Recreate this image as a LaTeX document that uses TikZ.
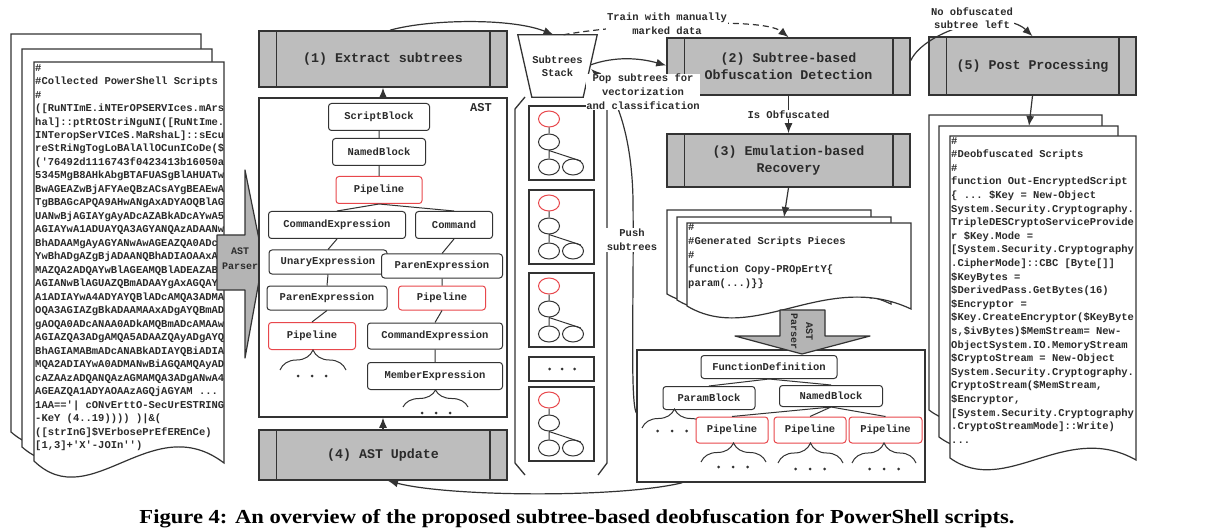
\documentclass[tikz,border=0pt]{standalone}
\usepackage{fontspec}
\usepackage{graphicx}
\setmonofont{Liberation Mono}
\newfontfamily\capfont{Liberation Serif}
\usetikzlibrary{arrows.meta,calc,decorations.pathreplacing,shapes.geometric}

\definecolor{ln}{HTML}{333333}
\definecolor{txt}{HTML}{2B2B2B}
\definecolor{procfill}{HTML}{BDBDBD}
\definecolor{arrfill}{HTML}{B4B4B4}
\definecolor{pred}{HTML}{E8474C}

\newcommand{\docpage}[6]{\path[pagestyle] (#1,#2) -- (#3,#2) -- (#3,#5) .. controls ({#1+0.62*(#3-#1)},{#5-#6}) and ({#1+0.3*(#3-#1)},{#4+#6}) .. (#1,#4) -- cycle;}
\newcommand{\tdots}[3]{\fill[ln] ({#1-#3},#2) circle (1.5) (#1,#2) circle (1.5) ({#1+#3},#2) circle (1.5);}

\tikzset{
 pagestyle/.style={fill=white, draw=ln, line width=1.2pt},
 proc/.style={draw=ln, line width=1.6pt, fill=procfill, font=\ttfamily\bfseries\fontsize{13.3}{17}\selectfont, text=txt, align=center, inner sep=0pt},
 tn/.style={draw=ln, line width=1pt, rounded corners=3pt, fill=white, inner sep=0pt, font=\ttfamily\bfseries\fontsize{10.5}{13}\selectfont, text=txt},
 tnr/.style={tn, draw=pred},
 treeln/.style={draw=ln, line width=1pt},
 conn/.style={draw=ln, line width=1.2pt, -{Latex[length=10pt,width=8pt]}},
 lbl/.style={font=\ttfamily\bfseries\fontsize{10.5}{14}\selectfont, text=txt, align=center, inner sep=1pt},
 doctext/.style={font=\ttfamily\bfseries\fontsize{10.5}{#1}\selectfont, align=left, inner sep=0pt, text=txt, anchor=north west},
 brc/.style={decorate, decoration={brace, amplitude=#1}, draw=ln, line width=1pt},
 cir/.style={ellipse, draw=ln, line width=1pt, minimum width=21, minimum height=16, inner sep=0pt, fill=white},
 card/.style={draw=ln, line width=1.3pt, minimum width=65, minimum height=74, inner sep=0pt, fill=white},
 sidebar/.style={draw=ln, line width=1.4pt}
}

\begin{document}
\begin{tikzpicture}[x=1pt,y=-1pt]
\useasboundingbox (0,0) rectangle (1209,529);
\fill[white] (0,0) rectangle (1209,529);

% ---------- left documents ----------
\docpage{11}{34}{201}{432}{436}{50}
\docpage{22}{49}{212}{447}{450}{50}
\docpage{34}{62}{224}{461}{463}{55}
\begin{scope}
\clip (34,62) rectangle (224,470);
\node[doctext=13.48] (ldoc) at (35,64) {\#\\
\#Collected PowerShell Scripts\\
\#\\
([RuNTImE.iNTErOPSERVIces.mArs\\
hal]::ptRtOStriNguNI([RuNtIme.\\
INTeropSerVICeS.MaRshaL]::sEcu\\
reStRiNgTogLoBAlAllOCunICoDe(\$\\
('76492d1116743f0423413b16050a\\
5345MgB8AHkAbgBTAFUASgBlAHUATw\\
BwAGEAZwBjAFYAeQBzACsAYgBEAEwA\\
TgBBAGcAPQA9AHwANgAxADYAOQBlAG\\
UANwBjAGIAYgAyADcAZABkADcAYwA5\\
AGIAYwA1ADUAYQA3AGYANQAzADAANw\\
BhADAAMgAyAGYANwAwAGEAZQA0ADcA\\
YwBhADgAZgBjADAANQBhADIAOAAxAD\\
MAZQA2ADQAYwBlAGEAMQBlADEAZABk\\
AGIANwBlAGUAZQBmADAAYgAxAGQAYQ\\
A1ADIAYwA4ADYAYQBlADcAMQA3ADMA\\
OQA3AGIAZgBkADAAMAAxADgAYQBmAD\\
gAOQA0ADcANAA0ADkAMQBmADcAMAAw\\
AGIAZQA3ADgAMQA5ADAAZQAyADgAYQ\\
BhAGIAMABmADcANABkADIAYQBiADIA\\
MQA2ADIAYwA0ADMANwBiAGQAMQAyAD\\
cAZAAzADQANQAzAGMAMQA3ADgANwA4\\
AGEAZQA1ADYAOAAzAGQjAGYAM ...\\
1AA=='| cONvErttO-SecUrESTRING\\
-KeY (4..19)))) )|\&(\\
([strInG]\$VErbosePrEfEREnCe)\\
{}[1,3]+'X'-JOIn'')};
\end{scope}

% left AST parser arrow
\path[draw=ln, line width=1.2pt, fill=arrfill, line join=round] (217,235) -- (245,235) -- (245,170) -- (263,259) -- (245,358) -- (245,290) -- (217,290) -- cycle;
\node[lbl, font=\ttfamily\bfseries\fontsize{10}{15}\selectfont] (apl) at (240,259) {AST\\Parser};

% ---------- AST box ----------
\node[draw=ln, line width=1.5pt, fill=white, minimum width=248, minimum height=319, inner sep=0pt] (ast) at (383,257.5) {};
\node[lbl, font=\ttfamily\bfseries\fontsize{12}{14}\selectfont] (astl) at (481,108) {AST};
\node[proc, minimum width=248, minimum height=56] (p1) at (383,59) {(1) Extract subtrees};
\node[proc, minimum width=248, minimum height=50] (p4) at (383,455) {(4) AST Update};

\node[tn, minimum width=101, minimum height=27] (sb) at (379,117) {ScriptBlock};
\node[tn, minimum width=93, minimum height=27] (nb) at (379,152) {NamedBlock};
\node[tnr, minimum width=86, minimum height=27] (pla) at (379,190) {Pipeline};
\node[tn, minimum width=137, minimum height=27] (cea) at (337,225) {CommandExpression};
\node[tn, minimum width=77, minimum height=27] (cm) at (454,225) {Command};
\node[tn, minimum width=118, minimum height=24] (ue) at (328,262) {UnaryExpression};
\node[tn, minimum width=121, minimum height=24] (peb) at (442,266) {ParenExpression};
\node[tn, minimum width=120, minimum height=24] (pea) at (327,298) {ParenExpression};
\node[tnr, minimum width=87, minimum height=24] (plc) at (442,298) {Pipeline};
\node[tnr, minimum width=87, minimum height=27] (plb) at (312,336) {Pipeline};
\node[tn, minimum width=135, minimum height=26] (ceb) at (435,336) {CommandExpression};
\node[tn, minimum width=135, minimum height=27] (me) at (435,376) {MemberExpression};
\draw[treeln] (sb.south) -- (nb.north) (nb.south) -- (pla.north)
  (pla.south) -- (cea.north) (pla.south) -- (cm.north)
  (cea.south) -- (ue.north) (cm.south) -- (peb.north)
  (ue.south) -- (pea.north) (pea.south) -- (plb.north)
  (peb.south) -- (plc.north) (plc.south) -- (ceb.north)
  (ceb.south) -- (me.north);
\draw[brc=20] (280,370) -- (346,370);
\tdots{312}{376}{14}
\draw[brc=17] (403,407) -- (468,407);
\tdots{436}{413}{14}

% ---------- subtree stack ----------
\node[lbl, minimum width=79, minimum height=62, font=\ttfamily\bfseries\fontsize{10.5}{13}\selectfont] (stack) at (557.5,66) {Subtrees\\Stack};
\draw[ln, line width=1.3pt] (stack.north west) -- (stack.north east) -- ([xshift=-14pt]stack.south east) -- ([xshift=14pt]stack.south west) -- cycle;
\draw[ln, line width=1.3pt] (525,97) -- (515,109) -- (515,463) -- (525,475);
\draw[ln, line width=1.3pt] (598,97) -- (607,109) -- (607,463) -- (598,475);
\foreach \ty [count=\i] in {106,190,273,387} {
  \node[card] (card\i) at ({561.5},{\ty+37}) {};
  \node[cir, draw=pred] (ca\i) at (549,{\ty+13}) {};
  \node[cir] (cb\i) at (549,{\ty+36}) {};
  \node[cir] (cc\i) at (549,{\ty+61}) {};
  \node[cir] (cd\i) at (573,{\ty+61}) {};
  \draw[treeln] (ca\i.south) -- (cb\i.north) (cb\i.south) -- (cc\i.north) (cb\i.south) -- (cd\i.north east);
}
\node[card, minimum height=24] (cardd) at (561.5,369) {};
\tdots{562}{369}{12.5}

% ---------- generated script pieces ----------
\docpage{667}{210}{871}{294}{298}{35}
\docpage{677}{217}{891}{300}{304}{38}
\docpage{687}{223}{911}{306}{309}{40}
\node[doctext=14] (gdoc) at (688,223) {\#\\
\#Generated Scripts Pieces\\
\#\\
function Copy-PROpErtY\{\\
param(...)\}\}};
\coordinate (gtop) at (784,217);

% ---------- second AST ----------
\node[draw=ln, line width=1.5pt, fill=white, minimum width=288, minimum height=132, inner sep=0pt] (ast2) at (781,416) {};
\path[draw=ln, line width=1.2pt, fill=arrfill, line join=round] (780,310) -- (825,310) -- (825,336) -- (870,336) -- (802,354) -- (735,336) -- (780,336) -- cycle;
\node[lbl, rotate=-90, font=\ttfamily\bfseries\fontsize{10}{15}\selectfont] (apl2) at (802,332) {AST\\Parser};
\node[tn, minimum width=136, minimum height=23] (fd) at (769,367) {FunctionDefinition};
\node[tn, minimum width=92, minimum height=23] (pb) at (709,398) {ParamBlock};
\node[tn, minimum width=103, minimum height=21] (nbb) at (831,396) {NamedBlock};
\draw[brc=19] (642,428) -- (707,428);
\tdots{672}{431}{14.5}
\node[tnr, minimum width=72, minimum height=26] (pra) at (732,430) {Pipeline};
\node[tnr, minimum width=72, minimum height=26] (prb) at (810,430) {Pipeline};
\node[tnr, minimum width=73, minimum height=26] (prc) at (885.5,430) {Pipeline};
\draw[treeln] (fd.south) -- (pb.north) (fd.south) -- (nbb.north)
  (nbb.south) -- (pra.north) (nbb.south) -- (prb.north) (nbb.south) -- (prc.north);
\draw[brc=19] (701,462) -- (766,462);
\tdots{733}{467}{14.5}
\draw[brc=20] (778,463) -- (843,463);
\tdots{810}{469}{14.5}
\draw[brc=20] (852,463) -- (916,463);
\tdots{884}{469}{14.5}

% ---------- deobfuscated scripts ----------
\docpage{929}{115}{1102}{410}{414}{40}
\docpage{939}{126}{1118}{437}{440}{40}
\docpage{950}{136}{1136}{458}{460}{40}
\node[doctext=13.6] (ddoc) at (951,137) {\#\\
\#Deobfuscated Scripts\\
\#\\
function Out-EncryptedScript\\
\{ ... \$Key = New-Object\\
System.Security.Cryptography.\\
TripleDESCryptoServiceProvide\\
r \$Key.Mode =\\
{}[System.Security.Cryptography\\
.CipherMode]::CBC [Byte[]]\\
\$KeyBytes =\\
\$DerivedPass.GetBytes(16)\\
\$Encryptor =\\
\$Key.CreateEncryptor(\$KeyByte\\
s,\$ivBytes)\$MemStream= New-\\
ObjectSystem.IO.MemoryStream\\
\$CryptoStream = New-Object\\
System.Security.Cryptography.\\
CryptoStream(\$MemStream,\\
\$Encryptor,\\
{}[System.Security.Cryptography\\
.CryptoStreamMode]::Write)\\
...};
\coordinate (dtop) at (1029,126);

% ---------- process boxes ----------
\node[proc, minimum width=243, minimum height=57] (p2) at (788.5,66.5) {(2) Subtree-based\\Obfuscation Detection};
\node[proc, minimum width=243, minimum height=53] (p3) at (788.5,160.5) {(3) Emulation-based\\Recovery};
\node[proc, minimum width=207, minimum height=58] (p5) at (1032.5,66) {(5) Post Processing};
\foreach \n in {p1,p2,p3,p4,p5} {
  \draw[sidebar] ([xshift=18pt]\n.north west) -- ([xshift=18pt]\n.south west)
                 ([xshift=-18pt]\n.north east) -- ([xshift=-18pt]\n.south east);
}

% ---------- connectors ----------
\draw[conn] (ast.north) -- (p1.south);
\draw[conn] (p4.north) -- (ast.south);
\draw[conn] ($(p1.north)+(7,0)$) .. controls (430,19) and (512,18) .. ($(stack.north)+(-4,0)$);
\draw[conn, dash pattern=on 6pt off 4pt] ($(stack.north)+(6,0)$) .. controls (615,25) and (762,16) .. (p2.north);
\node[lbl, fill=white, font=\ttfamily\bfseries\fontsize{10.5}{14.5}\selectfont] (trainl) at (667,24) {Train with manually\\marked data};
\draw[conn] ($(ast2.west)+(0,-3)$) .. controls (630,400) and (634,300) .. (633,200) .. controls (632,140) and (618,95) .. ($(stack.east)+(-6,3)$);
\draw[conn] ($(stack.east)+(-7,-1)$) .. controls (615,56) and (640,58) .. ($(p2.west)+(0,-1)$);
\node[lbl, fill=white, inner sep=0.5pt] (popl) at (643,92) {Pop subtrees for\\vectorization\\and classification};
\node[lbl, fill=white] (pushl) at (632,240) {Push\\subtrees};
\draw[conn] (p2.south) -- node[lbl, fill=white] (isobf) {Is Obfuscated} (p3.north);
\draw[conn] (p3.south) -- (gtop);
\draw[conn] (p5.south) -- (dtop);
\draw[conn] ($(p2.east)+(0,-6)$) .. controls (925,30) and (1003,8) .. (p5.north);
\node[lbl, fill=white, font=\ttfamily\bfseries\fontsize{10.5}{13}\selectfont] (nol) at (972,18.5) {No obfuscated\\subtree left};
\draw[conn] ($(ast2.south west)+(46,0)$) .. controls (620,498) and (450,497) .. ($(p4.south)+(5,0)$);

% ---------- caption ----------
\node[inner sep=0pt] (cap) at (577,519) {\resizebox{875pt}{14pt}{\capfont\bfseries Figure 4: An overview of the proposed subtree-based deobfuscation for PowerShell scripts.}};
\end{tikzpicture}
\end{document}
